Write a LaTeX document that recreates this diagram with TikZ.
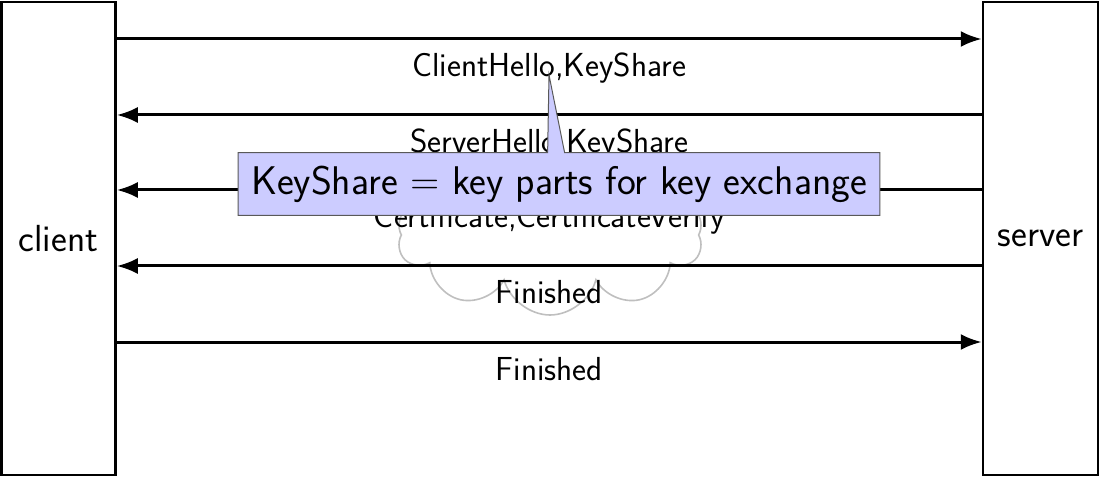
\documentclass[tikz,border=0pt]{standalone}
\usetikzlibrary{arrows.meta,shapes.symbols,shapes.callouts}
\begin{document}
\begin{tikzpicture}[x=1pt,y=1pt,
  endpoint/.style={draw, line width=2.5pt, minimum width=114pt, minimum height=473pt, inner sep=0pt,
    font=\fontsize{37.7}{44}\selectfont\sffamily},
  msg/.style={line width=3pt, -{Latex[length=21pt,width=16pt]}},
  lbl/.style={font=\fontsize{33.3}{40}\selectfont\sffamily, anchor=base, inner sep=0pt},
  puffy/.style={cloud, draw=gray!50, line width=1.6pt, cloud puffs=10, minimum width=305pt, minimum height=160pt},
  note/.style={rectangle callout, draw=gray!70!black, fill=blue!20, line width=1pt,
    callout pointer width=17pt, inner xsep=13pt, inner ysep=13pt, minimum height=62pt,
    font=\fontsize{40}{48}\selectfont\sffamily}]
\useasboundingbox (0,0) rectangle (1100,477);
\node[puffy] (cld) at (550,242) {};
\node[endpoint] (client) at (58.5,238.5) {client};
\node[endpoint, minimum width=115pt] (server) at (1040.5,238.5) {server};
\draw[msg] (client.east |- 0,438) -- (server.west |- 0,438)
  node[lbl, midway, yshift=-38pt] (l1) {ClientHello,KeyShare};
\draw[msg] (server.west |- 0,362) -- (client.east |- 0,362)
  node[lbl, midway, yshift=-38pt] (l2) {ServerHello,KeyShare};
\draw[msg] (server.west |- 0,287) -- (client.east |- 0,287)
  node[lbl, midway, yshift=-38pt] (l3) {Certificate,CertificateVerify};
\draw[msg] (server.west |- 0,211) -- (client.east |- 0,211)
  node[lbl, midway, yshift=-38pt] (l4) {Finished};
\draw[msg] (client.east |- 0,135) -- (server.west |- 0,135)
  node[lbl, midway, yshift=-38pt] (l5) {Finished};
\coordinate (tip) at (549,402);
\node[note, callout absolute pointer={(tip)}] (kn) at (559,293) {KeyShare = key parts for key exchange};
\end{tikzpicture}
\end{document}
